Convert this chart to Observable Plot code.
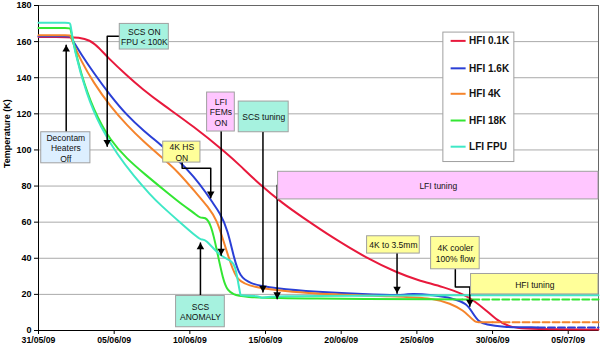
<!DOCTYPE html>
<html>
<head>
<meta charset="utf-8">
<script src="https://cdn.jsdelivr.net/npm/d3@7"></script>
<script src="https://cdn.jsdelivr.net/npm/@observablehq/plot@0.6"></script>
<style>
  html, body { margin: 0; padding: 0; background: #fff; }
  #chart svg { display: block; font-family: "Liberation Sans", Arial, sans-serif; }
</style>
</head>
<body>
<div id="chart"></div>
<script>
// ---------- data (days after 31/05/09 00:00 UTC, temperature in K) ----------
const seriesNames = ["HFI 0.1K", "HFI 1.6K", "HFI 4K", "HFI 18K", "LFI FPU"];
const seriesColors = ["#e8193c", "#2a3fd6", "#f5842c", "#33e633", "#3fe8c6"];

const hfi01K = [[0,162.5],[2.1,162.5],[2.6,162.4],[3.4,161],[4,156.5],[4.54,151.5],[5.86,141],[6.9,133.5],[8.06,126],[10.26,113],[12.46,98],[13.3,91.5],[14.66,80.5],[16.2,70],[17.3,63.5],[19.5,51],[21.7,40],[23.7,32],[25,28],[26.8,24],[28.1,20],[28.7,17],[29.6,11],[30.3,5.6],[31,2.6],[31.6,1.4],[32.5,0.8],[37,0.5]];
const hfi16K = [[0,163],[2.1,163],[2.1,163],[2.3,160],[2.77,153.7],[3.65,142.6],[4.76,130],[5.86,119],[6.96,110.5],[8.06,103],[9.16,95],[10.26,85.5],[11.14,75.5],[11.4,72],[12,65],[12.5,55.6],[12.9,40.6],[13.3,29.6],[14,26],[15.1,24],[17.3,21.9],[21.7,20],[24.3,19.4],[24.5,20.6],[26.1,19.6],[27.4,17.8],[28.3,15],[28.7,9.4],[29.1,4.6],[29.6,3.3],[30.5,1.9],[33,1.7]];
const hfi16KTail = [[33,1.7],[37,1.7]];
const hfi4K = [[0,163.5],[2.1,163.5],[2.1,163.5],[2.3,159],[2.77,150],[3.65,137],[4.76,124],[5.86,113.5],[6.96,104.5],[8.06,96.5],[9.16,88.5],[10.48,75.5],[11.2,68.5],[11.8,61],[12.2,50],[12.7,37],[13.1,27.8],[14,24],[17.3,20.5],[23.9,18.9],[26.1,17.8],[27.2,15],[28.1,11],[28.5,7.4],[28.9,4.6],[28.9,4.6],[30,4.6]];
const hfi4KTail = [[30,4.6],[37,4.6]];
const hfi18K = [[0,167.5],[2.1,167.5],[2.1,167.5],[2.3,160],[2.77,143],[3.65,121.5],[4.76,105],[5.86,95],[6.96,87],[8.7,75],[9.6,69],[10.3,65],[10.7,62],[11,63],[11.4,59],[11.8,44],[12.2,27.8],[12.5,22],[12.9,20],[13.3,18.5],[17.3,17.6],[28,17.2]];
const hfi18KTail = [[28,17.2],[37,17.2]];
const lfiFPU = [[0,170.5],[2.1,170.5],[2.1,170.5],[2.33,156],[3.2,130],[4.1,112.5],[5.2,97.5],[6.3,85.5],[7.4,75],[8.06,69.5],[9.4,59.5],[10.5,51.5],[10.8,50],[11,51],[12,41],[12.7,39],[13,36],[13.2,26],[13.35,19.5],[13.35,19.5],[14.6,19.2],[14.75,17.6],[14.9,19.2],[24,19.5],[37,19.5]];

const xTickLabels = ["31/05/09","05/06/09","10/06/09","15/06/09","20/06/09","25/06/09","30/06/09","05/07/09"];
const yTicks = [0, 20, 40, 60, 80, 100, 120, 140, 160, 180];

// annotation boxes: text, day range, temperature range, kind
const notes = [
  {text: "Decontam\nHeaters\nOff", d1: 0.18, d2: 3.43, t1: 92.6, t2: 109.8, kind: "blue"},
  {text: "SCS ON\nFPU < 100K", d1: 5.37, d2: 8.61, t1: 155.6, t2: 169.8, kind: "aqua"},
  {text: "4K HS\nON", d1: 8.24, d2: 10.7, t1: 93, t2: 104.6, kind: "yellow"},
  {text: "LFI\nFEMs\nON", d1: 11.14, d2: 12.97, t1: 110.2, t2: 131.8, kind: "pink"},
  {text: "SCS tuning", d1: 13.23, d2: 16.53, t1: 109.8, t2: 126.8, kind: "aqua"},
  {text: "LFI tuning", d1: 15.83, d2: 37, t1: 72.6, t2: 87.9, kind: "pink"},
  {text: "SCS\nANOMALY", d1: 9.09, d2: 12.31, t1: 1.8, t2: 19.1, kind: "aqua"},
  {text: "4K to 3.5mm", d1: 21.71, d2: 25.19, t1: 42.6, t2: 52.2, kind: "yellow"},
  {text: "4K cooler\n100% flow", d1: 25.94, d2: 29.15, t1: 33.9, t2: 51.8, kind: "yellow"},
  {text: "HFI tuning", d1: 28.58, d2: 37, t1: 20, t2: 31.3, kind: "yellow"}
];
// connector polylines (day, K) and head direction at the last point
const connectors = [
  {pts: [[1.83,109.8],[1.83,158]], head: "up"},
  {pts: [[5.37,163],[4.54,163],[4.54,102]], head: "down"},
  {pts: [[9.49,93],[9.49,89.8],[11.38,89.8],[11.38,73.5]], head: "down"},
  {pts: [[12.07,110.2],[12.07,41.7]], head: "down"},
  {pts: [[14.83,109.8],[14.83,21.3]], head: "down"},
  {pts: [[15.83,80.4],[15.77,80.4],[15.77,17.6]], head: "down"},
  {pts: [[10.7,19.1],[10.7,48.5]], head: "up"},
  {pts: [[23.69,42.6],[23.69,20.7]], head: "down"},
  {pts: [[27.54,33.9],[27.54,24.1],[28.5,24.1],[28.5,13.5]], head: "down"}
];
// legend placement (day, K)
const legendBox = {d1: 26.75, d2: 31.44, t1: 93.3, t2: 165};
const legendRowsK = [160.4, 145.2, 131.1, 116.3, 101.8];

// ---------- build ----------
const t0 = Date.UTC(2009, 4, 31);
const day = d => new Date(t0 + d * 864e5);
const parseTick = d3.utcParse("%d/%m/%y");
const xTicks = xTickLabels.map(parseTick);
const toRows = (pts, name) => pts.map(([d, t]) => ({date: day(d), temp: t, name}));

const solid = [hfi01K, hfi16K, hfi4K, hfi18K, lfiFPU];
const tails = [null, hfi16KTail, hfi4KTail, hfi18KTail, null];
const fills = {blue: "#ddefff", aqua: "#a6f2df", yellow: "#ffff99", pink: "#ffc6ff"};

const connRows = connectors.flatMap((c, i) => c.pts.map(([d, t]) => ({id: i, date: day(d), temp: t})));
const heads = connectors.map(c => ({date: day(c.pts[c.pts.length - 1][0]), temp: c.pts[c.pts.length - 1][1], head: c.head}));
const noteRows = notes.map(n => ({...n, x1: day(n.d1), x2: day(n.d2), xm: day((n.d1 + n.d2) / 2), tm: (n.t1 + n.t2) / 2}));
const legendRows = seriesNames.map((name, i) => ({name, color: seriesColors[i], t: legendRowsK[i]}));

const marks = [
  Plot.gridY(yTicks, {stroke: "#aaaaaa", strokeOpacity: 1}),
  Plot.frame({stroke: "#666"}),
  Plot.ruleX([day(0)], {stroke: "#000"}),
  Plot.ruleY([0], {stroke: "#000"}),
  Plot.axisX({ticks: xTicks, tickFormat: d3.utcFormat("%d/%m/%y"), tickSize: 4, tickPadding: 2, fontWeight: "bold", fontSize: 8.7, label: null}),
  Plot.axisY({ticks: yTicks, tickSize: 4, tickPadding: 3, fontWeight: "bold", fontSize: 9, label: null}),
  Plot.text(["Temperature (K)"], {frameAnchor: "left", rotate: -90, dx: -31, fontWeight: "bold", fontSize: 9})
];
solid.forEach((s, i) => {
  marks.push(Plot.line(toRows(s, seriesNames[i]), {x: "date", y: "temp", stroke: seriesColors[i], strokeWidth: 2, curve: "basis"}));
});
tails.forEach((s, i) => {
  if (s) marks.push(Plot.line(toRows(s, seriesNames[i]), {x: "date", y: "temp", stroke: seriesColors[i], strokeWidth: 2, strokeDasharray: "7,3"}));
});
marks.push(
  Plot.line(connRows, {x: "date", y: "temp", z: "id", stroke: "#000", strokeWidth: 1.5}),
  Plot.dot(heads.filter(h => h.head === "down"), {x: "date", y: "temp", symbol: "triangle", rotate: 180, r: 2.8, fill: "#000", dy: -4.2}),
  Plot.dot(heads.filter(h => h.head === "up"), {x: "date", y: "temp", symbol: "triangle", r: 2.8, fill: "#000", dy: 4.2}),
  Plot.rect(noteRows, {x1: "x1", x2: "x2", y1: "t1", y2: "t2", fill: d => fills[d.kind], stroke: "#a0a0a0", strokeWidth: 1}),
  Plot.text(noteRows, {x: "xm", y: "tm", text: "text", fontSize: 8.5, lineHeight: 1.25, fill: "#111"}),
  Plot.rect([legendBox], {x1: d => day(d.d1), x2: d => day(d.d2), y1: "t1", y2: "t2", fill: "#fff", stroke: "#a0a0a0"}),
  Plot.link(legendRows, {x1: () => day(27.23), x2: () => day(28.22), y1: "t", y2: "t", stroke: "color", strokeWidth: 2}),
  Plot.text(legendRows, {x: () => day(28.45), y: "t", text: "name", textAnchor: "start", fontWeight: "bold", fontSize: 10, fill: "#111"})
);

const chart = Plot.plot({
  width: 600,
  height: 348,
  marginLeft: 38,
  marginRight: 2,
  marginTop: 5,
  marginBottom: 18,
  x: {type: "utc", domain: [day(0), day(37)]},
  y: {domain: [0, 180]},
  style: {fontFamily: "Liberation Sans, Arial, sans-serif", background: "#fff"},
  marks
});
document.getElementById("chart").appendChild(chart);
</script>
</body>
</html>
